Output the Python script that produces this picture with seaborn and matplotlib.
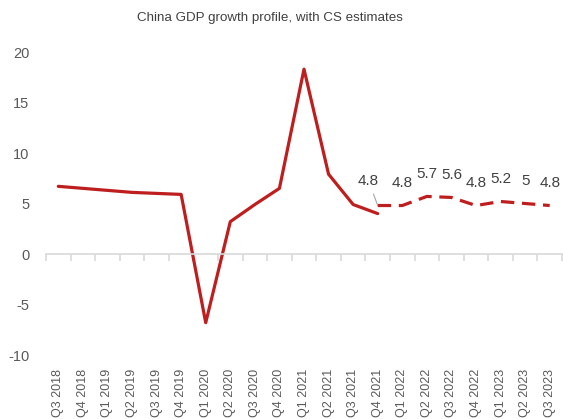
import numpy as np
import pandas as pd
import matplotlib
matplotlib.use("Agg")
import matplotlib.pyplot as plt
import seaborn as sns

quarters = ["Q3 2018", "Q4 2018", "Q1 2019", "Q2 2019", "Q3 2019", "Q4 2019",
            "Q1 2020", "Q2 2020", "Q3 2020", "Q4 2020", "Q1 2021", "Q2 2021",
            "Q3 2021", "Q4 2021", "Q1 2022", "Q2 2022", "Q3 2022", "Q4 2022",
            "Q1 2023", "Q2 2023", "Q3 2023"]
actual = [6.7, 6.5, 6.3, 6.1, 6.0, 5.9, -6.8, 3.2, 4.9, 6.5, 18.3, 7.9, 4.9, 4.0]
estimate = [4.8, 4.8, 5.7, 5.6, 4.8, 5.2, 5.0, 4.8]
estimate_labels = ["4.8", "4.8", "5.7", "5.6", "4.8", "5.2", "5", "4.8"]

red = "#BF1E1E"
grey_txt = "#595959"
axis_grey = "#D9D9D9"

pos = np.arange(len(quarters))
df_act = pd.DataFrame({"pos": pos[:len(actual)], "gdp": actual})
est_start = len(actual) - 1
df_est = pd.DataFrame({"pos": pos[est_start:est_start + len(estimate)], "gdp": estimate})

sns.set_theme(style="white")
plt.rcParams["font.family"] = ["Liberation Sans", "DejaVu Sans"]
plt.rcParams["axes.unicode_minus"] = False

fig = plt.figure(figsize=(5.63, 4.19), dpi=100)
ax = fig.add_axes([46 / 563, 1 - 355 / 419, 516 / 563, 303 / 419])

sns.lineplot(data=df_act, x="pos", y="gdp", ax=ax, color=red, linewidth=2.3)
sns.lineplot(data=df_est, x="pos", y="gdp", ax=ax, color=red, linewidth=2.3)
ax.lines[-1].set_dashes((4.2, 2.4))

# value labels for the estimates
for i, (x, y, lab) in enumerate(zip(df_est["pos"], df_est["gdp"], estimate_labels)):
    if i == 0:
        ax.annotate(lab, (x, y), xytext=(-6.5, 17.5), textcoords="offset points",
                    ha="center", va="center", fontsize=11, color="#404040",
                    arrowprops=dict(arrowstyle="-", color="#A6A6A6", lw=0.8,
                                    shrinkA=2, shrinkB=0))
    else:
        ax.annotate(lab, (x, y), xytext=(0, 16), textcoords="offset points",
                    ha="center", va="center", fontsize=11, color="#404040")

ax.set_xlim(-0.5, len(quarters) - 0.5)
ax.set_ylim(-10, 20)
ax.set_yticks([-10, -5, 0, 5, 10, 15, 20])
ax.tick_params(axis="y", left=False, length=0, pad=12, labelsize=10.5,
               labelcolor=grey_txt)

# category axis line at zero with boundary ticks
for s in ["top", "right", "left"]:
    ax.spines[s].set_visible(False)
ax.spines["bottom"].set_position(("data", 0))
ax.spines["bottom"].set_color(axis_grey)
ax.spines["bottom"].set_linewidth(1.2)
ax.set_xticks(np.arange(-0.5, len(quarters), 1))
ax.set_xticklabels([])
ax.tick_params(axis="x", bottom=True, length=5, width=1.2, color=axis_grey,
               direction="out")
ax.set_xlabel("")
ax.set_ylabel("")

# quarter labels below the plot
sec = ax.secondary_xaxis(0)
sec.set_xticks(pos, labels=quarters, rotation=90)
sec.spines["bottom"].set_visible(False)
sec.tick_params(length=0, pad=10, labelsize=9, labelcolor=grey_txt)

fig.text(270 / 563, 1 - 18 / 419, "China GDP growth profile, with CS estimates",
         ha="center", va="center", fontsize=9.6, color="#404040")

fig.savefig("out.png", dpi=100)
